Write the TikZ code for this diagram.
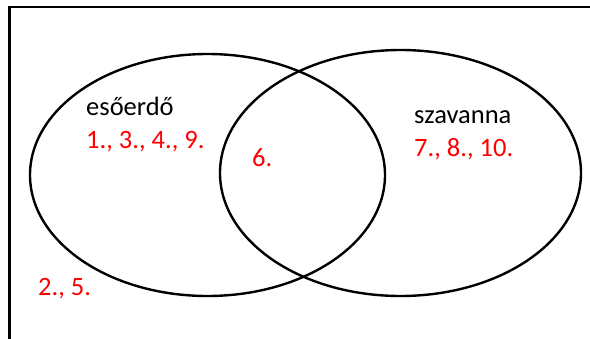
\documentclass[tikz,border=0pt]{standalone}
\usepackage{fontspec}
\setmainfont{Carlito}
\begin{document}
\begin{tikzpicture}[x=1pt,y=-1pt,
  lbl/.style={anchor=base west,inner sep=0pt,font=\fontsize{26.5}{30}\selectfont},
  ans/.style={lbl,text=red},
  setline/.style={draw=black,line width=2.4pt}]
\useasboundingbox (0,0) rectangle (590,338);
\begin{scope}
\clip (0,0) rectangle (590,338);
\draw[setline] (9.5,360) -- (9.5,7) -- (620,7);
\end{scope}
\draw[setline] (207.5,175) ellipse [x radius=177.5, y radius=121];
\draw[setline] (400.5,173) ellipse [x radius=180.5, y radius=123];
\node[lbl] (esoerdo) at (86,115) {esőerdő};
\node[ans] (eso) at (86,148) {1., 3., 4., 9.};
\node[ans] (both) at (252,166) {6.};
\node[lbl] (szavanna) at (414,123) {szavanna};
\node[ans] (sza) at (414,156) {7., 8., 10.};
\node[ans] (none) at (38,295) {2., 5.};
\end{tikzpicture}
\end{document}
